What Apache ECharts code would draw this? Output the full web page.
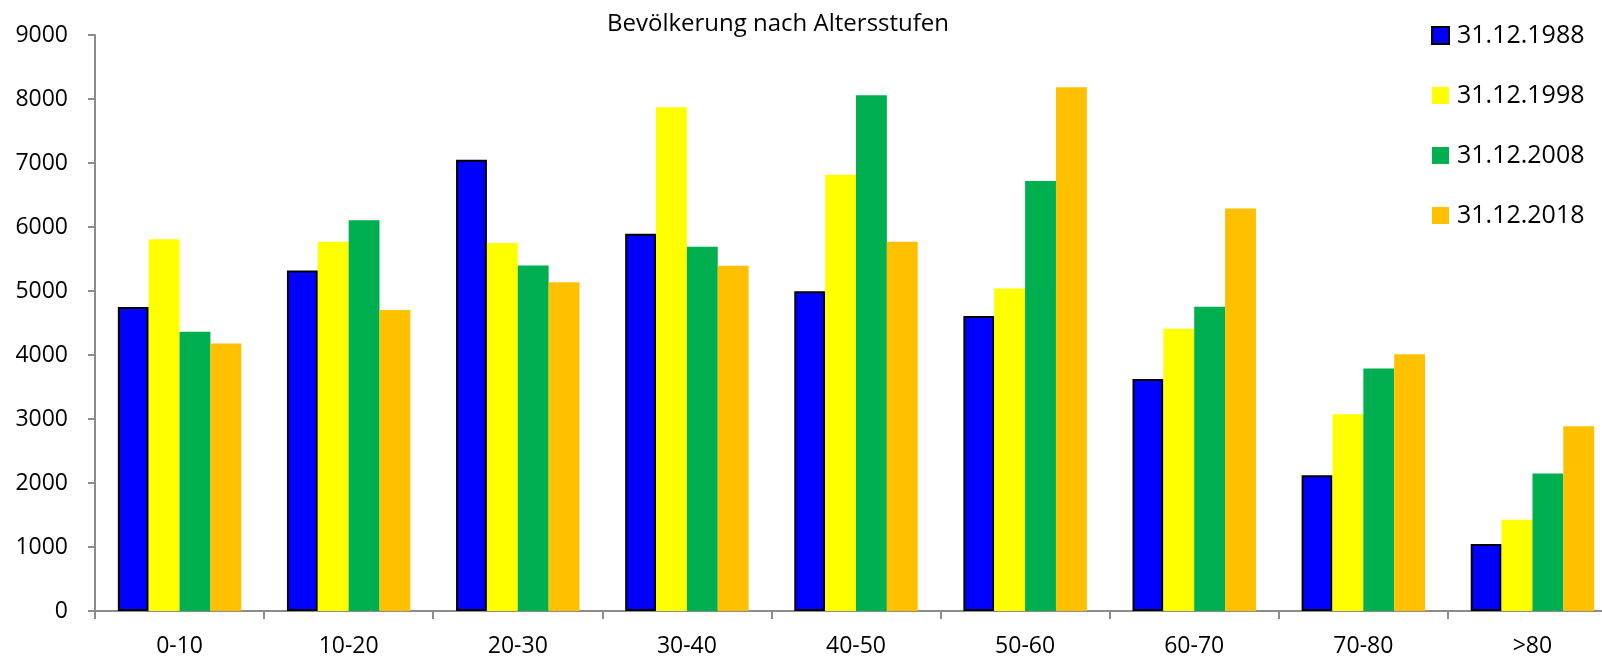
<!DOCTYPE html>
<html>
<head>
<meta charset="utf-8">
<title>Bevölkerung nach Altersstufen</title>
<script src="https://cdn.jsdelivr.net/npm/echarts@6/dist/echarts.min.js"></script>
<style>
    html, body { margin: 0; padding: 0; background: #fff; overflow: hidden; }
    /* 图表比窗口略宽，最右侧被裁掉（与原图一致） */
    #chart { width: 1620px; height: 658px; }
</style>
</head>
<body>
<div id="chart"></div>
<script>
    // 数据
    var categories = ['0-10', '10-20', '20-30', '30-40', '40-50', '50-60', '60-70', '70-80', '>80'];
    var seriesNames = ['31.12.1988', '31.12.1998', '31.12.2008', '31.12.2018'];
    var values1988 = [4750, 5320, 7050, 5895, 4995, 4610, 3625, 2120, 1045];
    var values1998 = [5810, 5770, 5750, 7870, 6815, 5040, 4410, 3075, 1425];
    var values2008 = [4365, 6105, 5400, 5690, 8060, 6720, 4755, 3790, 2150];
    var values2018 = [4180, 4705, 5135, 5395, 5770, 8185, 6290, 4010, 2885];
    var yTicks = [0, 1000, 2000, 3000, 4000, 5000, 6000, 7000, 8000, 9000];

    var colors = ['#0000FF', '#FFFF00', '#00B050', '#FFC000'];
    var fontName = 'Open Sans';
    var axisGray = '#8C8C8C';

    function makeSeries(name, data, color, border){
        return {
            name: name,
            type: 'bar',
            data: data,
            barGap: 0,
            barCategoryGap: '27%',
            itemStyle: {
                color: color,
                borderColor: border ? '#000' : color,
                borderWidth: border ? 2 : 0
            },
            emphasis: { disabled: true }
        };
    }

    var myChart = echarts.init(document.getElementById('chart'));
    var option = {
        animation: false,
        textStyle: { fontFamily: fontName },
        title: {
            text: 'Bevölkerung nach Altersstufen',
            left: 607,
            top: 12,
            padding: 0,
            textStyle: {
                fontFamily: fontName,
                fontSize: 24,
                fontWeight: 'normal',
                color: '#000'
            }
        },
        legend: {
            orient: 'vertical',
            left: 1431,
            top: 23,
            padding: 0,
            itemWidth: 17,
            itemHeight: 17,
            itemGap: 35,
            icon: 'rect',
            data: seriesNames,
            textStyle: {
                fontFamily: fontName,
                fontSize: 25,
                color: '#000',
                padding: [0, 0, 0, 3]
            }
        },
        grid: {
            left: 95,
            top: 35,
            width: 1522,
            height: 577,
            containLabel: false
        },
        xAxis: {
            type: 'category',
            data: categories,
            axisLine: { lineStyle: { color: axisGray, width: 2 } },
            axisTick: { show: true, length: 8, lineStyle: { color: axisGray, width: 2 } },
            axisLabel: {
                interval: 0,
                margin: 24,
                fontFamily: fontName,
                fontSize: 23,
                color: '#000'
            }
        },
        yAxis: {
            type: 'value',
            min: yTicks[0],
            max: yTicks[yTicks.length - 1],
            interval: yTicks[1] - yTicks[0],
            axisLine: { show: true, lineStyle: { color: axisGray, width: 2 } },
            axisTick: { show: true, length: 7, lineStyle: { color: axisGray, width: 2 } },
            splitLine: { show: false },
            axisLabel: {
                margin: 27,
                fontFamily: fontName,
                fontSize: 23,
                color: '#000',
                formatter: function(value){
                    return String(value);
                }
            }
        },
        series: [
            makeSeries(seriesNames[0], values1988, colors[0], true),
            makeSeries(seriesNames[1], values1998, colors[1], false),
            makeSeries(seriesNames[2], values2008, colors[2], false),
            makeSeries(seriesNames[3], values2018, colors[3], false)
        ]
    };

    myChart.setOption(option);
</script>
</body>
</html>
